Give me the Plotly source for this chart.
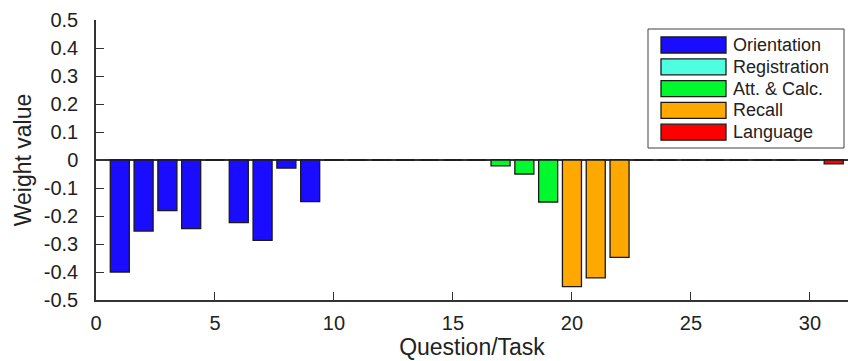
import plotly.graph_objects as go

# Question numbers and learned weights
questions = list(range(1, 32))
weights = [
    -0.400, -0.254, -0.181, -0.245, 0.000, -0.224, -0.287, -0.029, -0.149, 0.000,  # 1-10
    0.000, 0.000, 0.000,                                                            # 11-13
    0.000, 0.000, 0.000, -0.021, -0.050, -0.150,                                    # 14-19
    -0.452, -0.421, -0.348,                                                         # 20-22
    0.000, 0.000, 0.000, 0.000, 0.000, 0.000, 0.000, 0.000, -0.014,                 # 23-31
]

# Category of each question
categories = ["Orientation", "Registration", "Att. & Calc.", "Recall", "Language"]
category_sizes = [10, 3, 6, 3, 9]
category_colors = ["#1a0dff", "#4dffe0", "#00f82f", "#ffa800", "#ff0000"]

y_ticks = [0.5, 0.4, 0.3, 0.2, 0.1, 0, -0.1, -0.2, -0.3, -0.4, -0.5]
y_tick_text = ["0.5", "0.4", "0.3", "0.2", "0.1", "0", "-0.1", "-0.2", "-0.3", "-0.4", "-0.5"]
x_ticks = [0, 5, 10, 15, 20, 25, 30]

W, H = 848, 361
ML, MR, MT, MB = 96, 0, 20, 61
PW, PH = W - ML - MR, H - MT - MB

FONT = "Liberation Sans, Arial, Helvetica, sans-serif"
AX = "#333333"

fig = go.Figure()

start = 0
for name, size, color in zip(categories, category_sizes, category_colors):
    fig.add_trace(go.Bar(
        x=questions[start:start + size],
        y=weights[start:start + size],
        name=name,
        width=0.8,
        marker=dict(color=color, line=dict(color="#1a1a1a", width=1.3)),
        showlegend=False,
    ))
    start += size


def px_x(p):
    return (p - ML) / PW


def px_y(p):
    return (H - MB - p) / PH


# Legend box with wide swatches
shapes = [dict(type="rect", xref="paper", yref="paper",
               x0=px_x(648), x1=px_x(844), y0=px_y(148), y1=px_y(29),
               line=dict(color="#404040", width=1), fillcolor="white", layer="above")]
annotations = []
for i, (name, color) in enumerate(zip(categories, category_colors)):
    cy = 45 + 21.8 * i
    shapes.append(dict(type="rect", xref="paper", yref="paper",
                       x0=px_x(661), x1=px_x(726), y0=px_y(cy + 8), y1=px_y(cy - 8),
                       line=dict(color="#1a1a1a", width=1.3), fillcolor=color, layer="above"))
    annotations.append(dict(x=px_x(731), y=px_y(cy), xref="paper", yref="paper",
                            text=name, showarrow=False, xanchor="left", yanchor="middle",
                            font=dict(family=FONT, size=18, color="#222222")))

fig.update_layout(
    width=W, height=H,
    margin=dict(l=ML, r=MR, t=MT, b=MB, pad=0),
    paper_bgcolor="white", plot_bgcolor="white",
    barmode="overlay",
    font=dict(family=FONT, color="#222222"),
    shapes=shapes,
    annotations=annotations,
    xaxis=dict(
        range=[0, 31.6], tickvals=x_ticks, ticks="inside", ticklen=8, tickcolor=AX,
        showline=True, linecolor=AX, linewidth=1.5, showgrid=False, zeroline=False,
        tickfont=dict(size=20, color="#222222"), ticklabelstandoff=4,
        title=dict(text="Question/Task", font=dict(size=23, color="#222222"), standoff=2),
    ),
    yaxis=dict(
        range=[-0.5, 0.5], tickvals=y_ticks, ticktext=y_tick_text, ticks="inside", ticklen=8,
        tickcolor=AX, showline=True, linecolor=AX, linewidth=1.5, showgrid=False,
        zeroline=True, zerolinecolor=AX, zerolinewidth=2,
        tickfont=dict(size=20, color="#222222"), ticklabelstandoff=12,
        title=dict(text="Weight value", font=dict(size=23, color="#222222"), standoff=6),
    ),
)

fig.write_html("out.html")
